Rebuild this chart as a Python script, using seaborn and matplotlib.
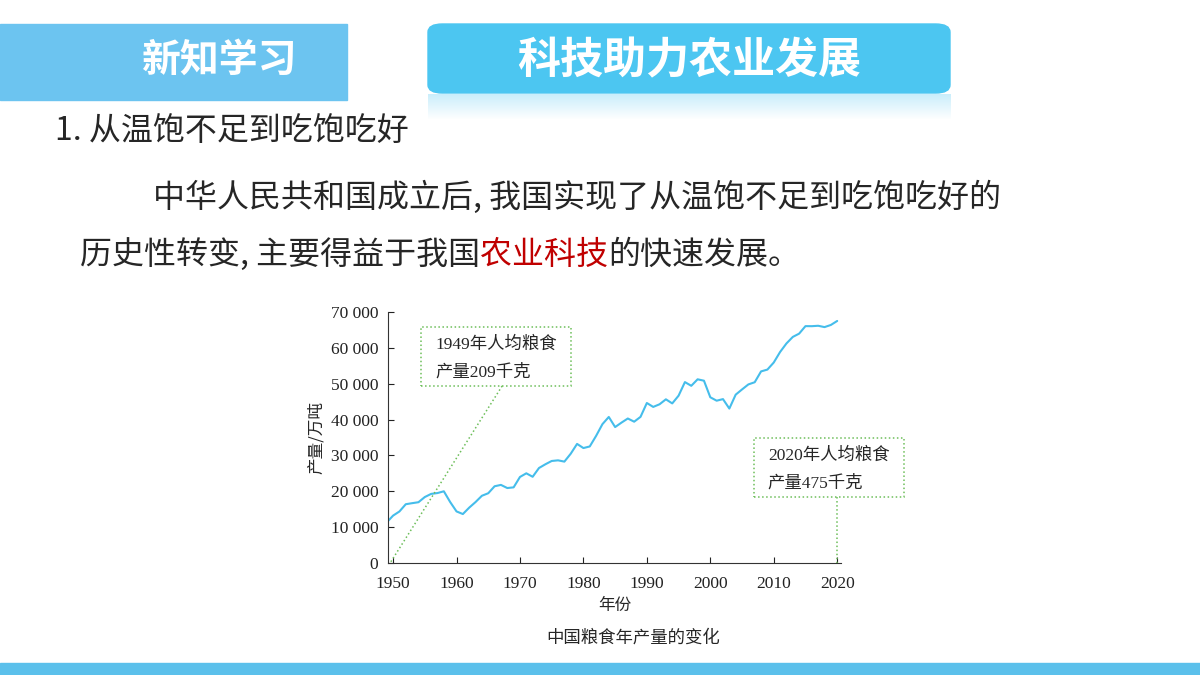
import matplotlib
matplotlib.use("Agg")
import matplotlib.pyplot as plt
import seaborn as sns
import pandas as pd
import numpy as np
from matplotlib.patches import Rectangle, FancyBboxPatch
from matplotlib.ticker import FuncFormatter

years = list(range(1949, 2021))
output = [11318, 13213, 14369, 16392, 16683, 16952, 18394, 19275, 19505, 20000,
          17000, 14385, 13650, 15441, 17000, 18750, 19453, 21400, 21782, 20906,
          21097, 23996, 25014, 24048, 26494, 27527, 28452, 28631, 28273, 30477,
          33212, 32056, 32502, 35450, 38728, 40731, 37911, 39151, 40298, 39408,
          40755, 44624, 43529, 44266, 45649, 44510, 46662, 50454, 49417, 51230,
          50839, 46218, 45264, 45706, 43070, 46947, 48402, 49804, 50414, 53434,
          53941, 55911, 58849, 61223, 63048, 63965, 66060, 66044, 66161, 65789,
          66384, 67500]
xticks = [1950, 1960, 1970, 1980, 1990, 2000, 2010, 2020]
yticks = [0, 10000, 20000, 30000, 40000, 50000, 60000, 70000]

sns.set_theme(style="white")
plt.rcParams['font.family'] = ['Noto Sans CJK SC', 'DejaVu Sans']
CJK = ['Noto Sans CJK SC', 'DejaVu Sans']
SERIF = ['Liberation Serif', 'Noto Sans CJK SC']

fig = plt.figure(figsize=(12, 6.75), dpi=100)
W, H = 1200, 675
def fx(px): return px / W
def fy(py): return 1 - py / H

# header
fig.patches.append(Rectangle((0, fy(100)), fx(347), (100 - 24) / H,
                             transform=fig.transFigure, color='#6CC4F0', zorder=0))
fig.text(fx(220), fy(60), '新知学习', color='white', fontsize=28, fontweight='bold',
         ha='center', va='center', family=CJK)
fig.patches.append(FancyBboxPatch((fx(428), fy(93)), fx(950 - 428), (93 - 24) / H,
                                  boxstyle='round,pad=0,rounding_size=0.012',
                                  transform=fig.transFigure, color='#4CC6F1', zorder=0))
fig.text(fx(689), fy(60), '科技助力农业发展', color='white', fontsize=31, fontweight='bold',
         ha='center', va='center', family=CJK)
grad = np.linspace(0.85, 0.0, 30).reshape(-1, 1)
rax = fig.add_axes([fx(428), fy(120), fx(522), 26 / H])
rax.imshow(np.dstack([np.full((30, 1), 0.3), np.full((30, 1), 0.78), np.full((30, 1), 0.95), grad * 0.35]),
           aspect='auto', extent=[0, 1, 0, 1])
rax.axis('off')
fig.patches.append(Rectangle((0, 0), 1, 12 / H, transform=fig.transFigure,
                             color='#5BC0EB', zorder=0))

# body text
FS = 23
fig.text(fx(55), fy(131), '1. 从温饱不足到吃饱吃好', fontsize=FS, va='center', family=CJK)
fig.text(fx(153), fy(197), '中华人民共和国成立后, 我国实现了从温饱不足到吃饱吃好的',
         fontsize=FS, va='center', family=CJK)
t1 = fig.text(fx(80), fy(255), '历史性转变, 主要得益于我国', fontsize=FS, va='center', family=CJK)
t2 = fig.text(0, fy(255), '农业科技', fontsize=FS, color='#C00000', va='center', family=CJK)
fig.canvas.draw()
r = fig.canvas.get_renderer()
bb = t1.get_window_extent(r)
t2.set_position((bb.x1 / W, fy(255)))
fig.canvas.draw()
bb2 = t2.get_window_extent(r)
fig.text(bb2.x1 / W, fy(255), '的快速发展。', fontsize=FS, va='center', family=CJK)

# chart
ax = fig.add_axes([fx(388), fy(563), fx(841 - 388), (563 - 312) / H])
df = pd.DataFrame({'year': years, 'output': output})
sns.lineplot(data=df, x='year', y='output', ax=ax, color='#45BDEB', linewidth=1.5)
ax.set_xlim(1949.2, 2020.6)
ax.set_ylim(0, 70000)
ax.set_xticks(xticks)
ax.set_yticks(yticks)
ax.yaxis.set_major_formatter(FuncFormatter(lambda v, p: f'{int(v):,}'.replace(',', ' ')))
for s in ['top', 'right']:
    ax.spines[s].set_visible(False)
for s in ['left', 'bottom']:
    ax.spines[s].set_color('#333333')
    ax.spines[s].set_linewidth(0.8)
ax.tick_params(direction='in', length=4, width=0.8, colors='#222222', labelsize=12.5,
               left=True, bottom=True)
ax.tick_params(axis='x', pad=9)
ax.tick_params(axis='y', pad=7)
for lab in ax.get_xticklabels() + ax.get_yticklabels():
    lab.set_family(SERIF)
ax.set_xlabel('年份', fontsize=12, family=CJK, labelpad=4)
ax.set_ylabel('产量/万吨', fontsize=12, family=CJK, labelpad=4)

green = '#6DBE5A'
def dx(px): return 1950 + (px - 393) / 6.4
def dy(py): return (563 - py) / 251 * 70000
ax.add_patch(Rectangle((dx(421), dy(386)), dx(572) - dx(421), dy(327) - dy(386),
                       fill=False, ec=green, ls=':', lw=1.1, clip_on=False))
ax.plot([dx(503), dx(390)], [dy(386), dy(563)], color=green, ls=':', lw=1.1, clip_on=False)
ax.text(dx(436), dy(345), '1949年人均粮食', fontsize=12.5, va='center', family=SERIF)
ax.text(dx(436), dy(372), '产量209千克', fontsize=12.5, va='center', family=SERIF)
ax.add_patch(Rectangle((dx(757), dy(497)), dx(908) - dx(757), dy(438) - dy(497),
                       fill=False, ec=green, ls=':', lw=1.1, clip_on=False))
ax.plot([2020, 2020], [dy(497), 0], color=green, ls=':', lw=1.1, clip_on=False)
ax.text(dx(771), dy(456), '2020年人均粮食', fontsize=12.5, va='center', family=SERIF)
ax.text(dx(771), dy(483), '产量475千克', fontsize=12.5, va='center', family=SERIF)

fig.text(fx(633), fy(638), '中国粮食年产量的变化', fontsize=12.5, ha='center', va='center', family=CJK)

fig.savefig('out.png', dpi=100)
